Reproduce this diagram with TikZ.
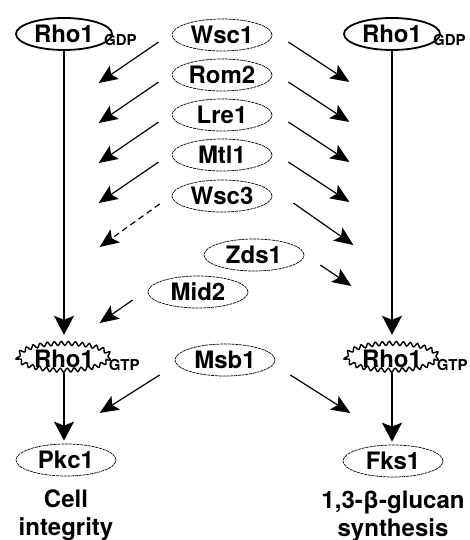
\documentclass[tikz,border=0pt]{standalone}
\usepackage{fontspec}
\setmainfont{TeX Gyre Heros}
\usetikzlibrary{shapes.geometric,arrows.meta,positioning,decorations.pathmorphing}
\tikzset{
  big/.style = {font=\bfseries\fontsize{24}{28}\selectfont},
  sensor/.style = {big, ellipse, draw, line width=0.7pt, dash pattern=on 3pt off 0.8pt,
    minimum width=100pt, minimum height=32pt, inner sep=0pt},
  gdp/.style = {big, ellipse, draw, line width=1.8pt,
    minimum width=96pt, minimum height=32pt, inner sep=0pt},
  gtp/.style = {big, ellipse, draw, line width=1.4pt, minimum width=92pt,
    minimum height=27pt, inner sep=0pt, decorate,
    decoration={snake, segment length=7pt, amplitude=2pt}},
  sub/.style = {font=\bfseries\fontsize{15}{15}\selectfont, anchor=west, inner sep=0pt},
  sig/.style = {line width=1.2pt, -{Stealth[length=19pt,width=16pt,inset=4pt]}},
  down/.style = {line width=1.2pt, -{Stealth[length=19pt,width=20pt,inset=4pt]}}
}

\begin{document}
\begin{tikzpicture}[x=1pt,y=-1pt]
  \useasboundingbox (0,0) rectangle (470,540);
  % GTPase, inactive and active
  \node[gdp] (gdpL) at (64,34) {Rho1};
  \node[gdp] (gdpR) at (392,34) {Rho1};
  \node[sub] at ([shift={(-9,6)}]gdpL.east) {GDP};
  \node[sub] at ([shift={(-8,6)}]gdpR.east) {GDP};
  \node[gtp] (gtpL) at (64,359) {Rho1};
  \node[gtp] (gtpR) at (392,359) {Rho1};
  \node[sub] at ([shift={(-2,6)}]gtpL.east) {GTP};
  \node[sub] at ([shift={(-2,6)}]gtpR.east) {GTP};
  % regulators
  \node[sensor] (Wsc1) at (222,35) {Wsc1};
  \node[sensor] (Rom2) at (222,75) {Rom2};
  \node[sensor] (Lre1) at (222,115) {Lre1};
  \node[sensor] (Mtl1) at (222,155) {Mtl1};
  \node[sensor] (Wsc3) at (222,196) {Wsc3};
  \node[sensor] (Zds1) at (254,255) {Zds1};
  \node[sensor] (Mid2) at (198,292) {Mid2};
  \node[sensor] (Msb1) at (225,360) {Msb1};
  % effectors
  \node[sensor] (Pkc1) at (66,460) {Pkc1};
  \node[sensor] (Fks1) at (393,461) {Fks1};
  \node[big, align=center, inner sep=0pt, below=13pt of Pkc1] (cell) {Cell\\integrity};
  \node[big, align=center, inner sep=0pt, below=13pt of Fks1] (glucan) {1,3-β-glucan\\synthesis};
  % signalling
  \foreach \s in {Wsc1,Rom2,Lre1,Mtl1} {
    \draw[sig] ([shift={(-13,7)}]\s.west) -- ++(-60,41);
    \draw[sig] ([shift={(16,7)}]\s.east) -- ++(61,40);
  }
  \draw[sig, dash pattern=on 6pt off 4pt] ([shift={(-12,8)}]Wsc3.west) -- ++(-60,43);
  \draw[sig] ([shift={(21,7)}]Wsc3.east) -- ++(60,42);
  \draw[sig] ([shift={(16,10)}]Zds1.east) -- ++(31,21);
  \draw[sig] ([shift={(-15,8)}]Mid2.west) -- ++(-33,23);
  \draw[sig] ([shift={(-15,15)}]Msb1.west) -- ++(-60,38);
  \draw[sig] ([shift={(15,15)}]Msb1.east) -- ++(60,38);
  \draw[down, shorten >=10pt] (gdpL) -- (gtpL);
  \draw[down, shorten >=10pt] (gdpR) -- (gtpR);
  \draw[down, shorten >=3pt] (gtpL) -- (gtpL |- Pkc1.north);
  \draw[down, shorten >=3pt] (gtpR) -- (gtpR |- Fks1.north);
\end{tikzpicture}
\end{document}
